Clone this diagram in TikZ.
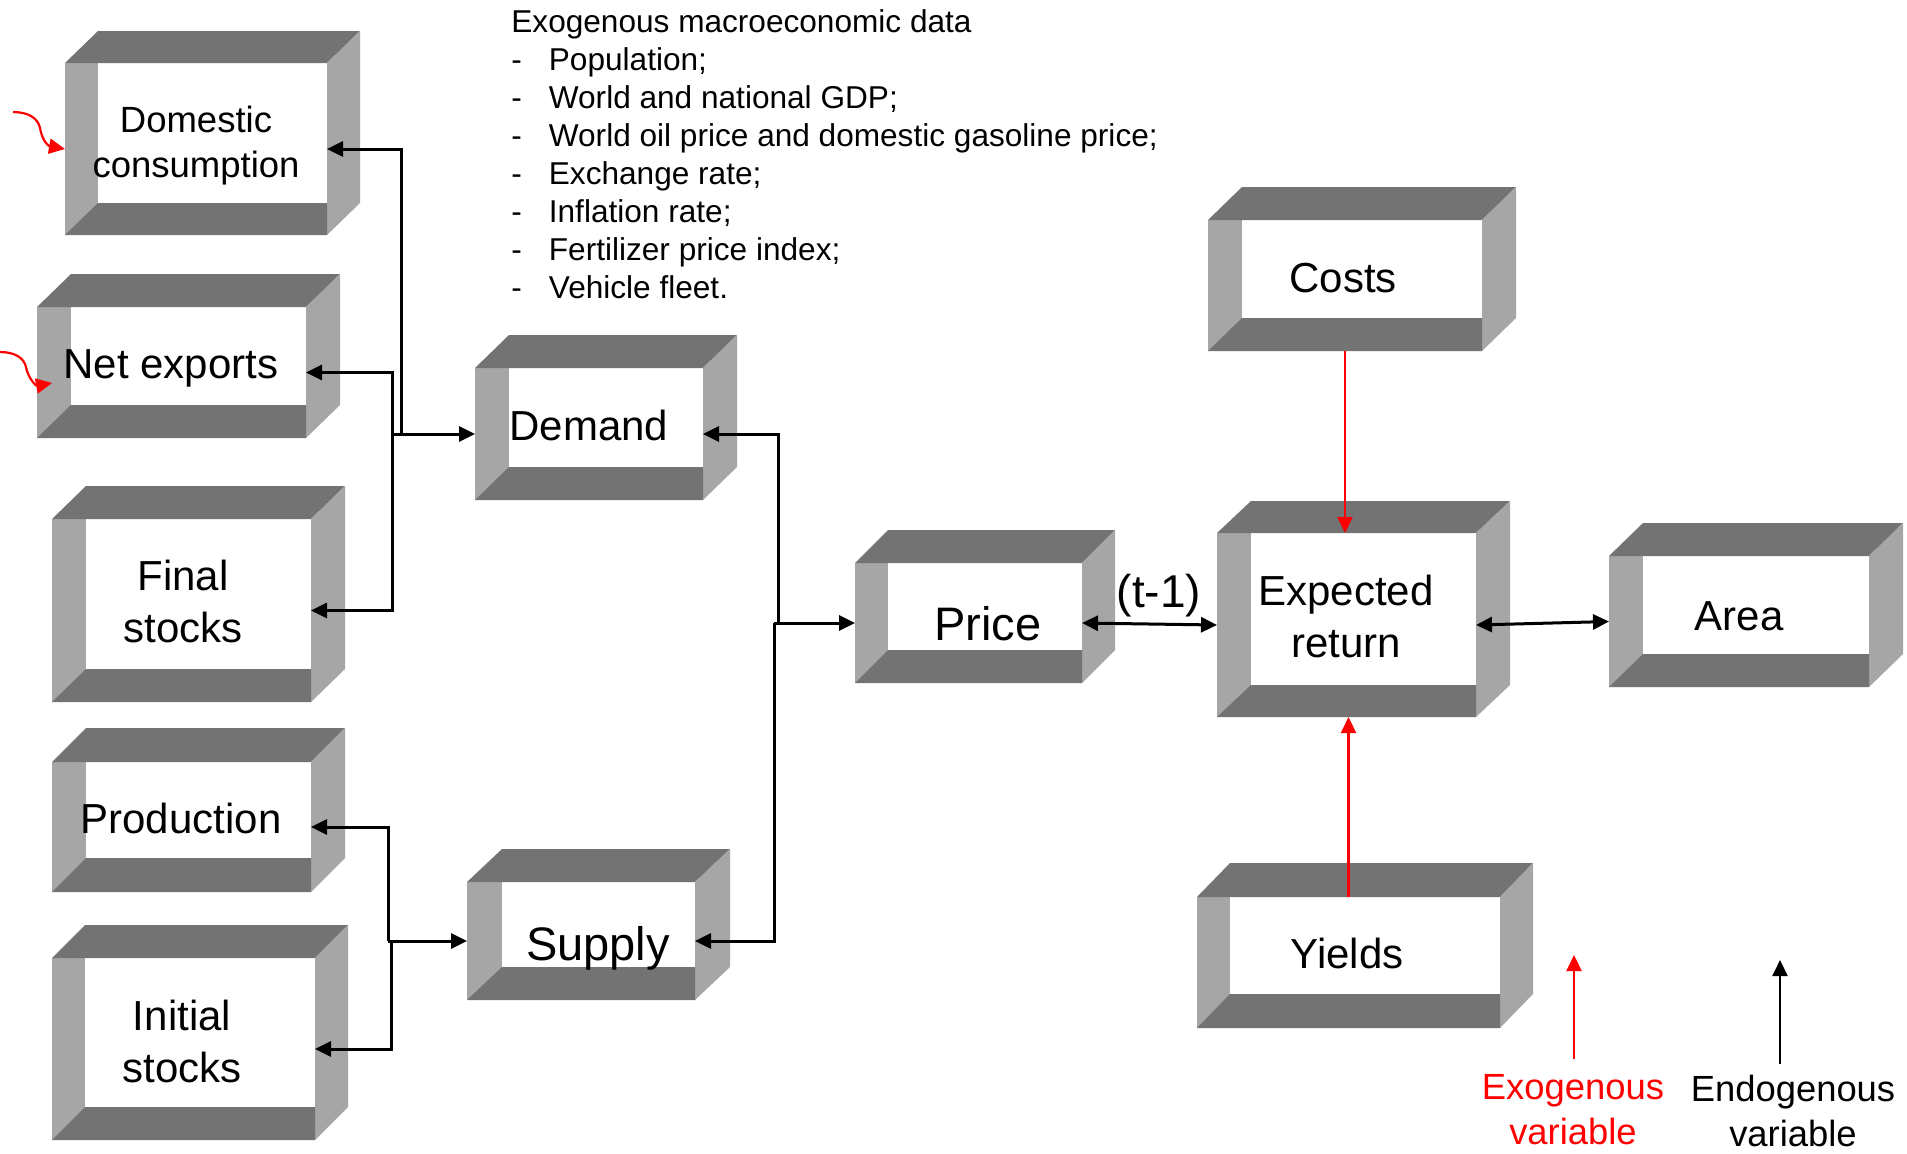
\documentclass[tikz,border=0pt]{standalone}
\usepackage{fontspec}
\setmainfont{Liberation Sans}
\usetikzlibrary{arrows.meta,fit}
\definecolor{bxdark}{RGB}{115,115,115}
\definecolor{bxlight}{RGB}{166,166,166}
\definecolor{exred}{RGB}{255,0,0}
\newcommand{\bevelbox}[7]{%
  \fill[bxlight] (#2,#3) rectangle (#2+#6,#5);
  \fill[bxdark] (#2,#3) -- (#2+#6,#3-#7) -- (#4+#6,#3-#7) -- (#4,#3) -- cycle;
  \fill[bxlight] (#4,#3) -- (#4+#6,#3-#7) -- (#4+#6,#5-#7) -- (#4,#5) -- cycle;
  \fill[bxdark] (#2,#5) -- (#2+#6,#5-#7) -- (#4,#5-#7) -- (#4,#5) -- cycle;
  \node[frontface, fit={(#2,#3)(#4,#5)}] (#1) {};
}
\tikzset{
  frontface/.style={inner sep=0pt, outer sep=0pt, draw=none},
  conn/.style={line width=1.5pt, -{Triangle[length=8pt,width=7.5pt]}},
  conntwo/.style={line width=1.5pt, {Triangle[length=8pt,width=7.5pt]}-{Triangle[length=8pt,width=7.5pt]}},
  exo/.style={line width=1.1pt, draw=exred, -{Triangle[length=8pt,width=7.5pt]}},
  endo/.style={line width=1.1pt, draw=black, -{Triangle[length=8pt,width=7.5pt]}},
  lbl/.style={inner sep=0pt, outer sep=0pt, font=\fontsize{21}{26}\selectfont, align=center},
  legend/.style={inner sep=0pt, outer sep=0pt, font=\fontsize{18.2}{22.5}\selectfont, align=center},
}
\begin{document}
\begin{tikzpicture}[x=0.5pt,y=-0.5pt]
\useasboundingbox (0,0) rectangle (1907,1153);

% boxes: name, x0, y0, x1, y1, dx, dy
\bevelbox{dom}{65}{63}{327}{235}{33}{32}
\bevelbox{net}{37}{307}{306}{438}{34}{33}
\bevelbox{fin}{52}{519}{311}{702}{34}{33}
\bevelbox{prod}{52}{762}{311}{892}{34}{34}
\bevelbox{ini}{52}{958}{315}{1140}{33}{33}
\bevelbox{dem}{475}{368}{703}{500}{34}{33}
\bevelbox{sup}{467}{882}{695}{1000}{35}{33}
\bevelbox{pri}{855}{563}{1082}{683}{33}{33}
\bevelbox{exp}{1217}{533}{1476}{717}{34}{32}
\bevelbox{cost}{1208}{220}{1482}{351}{34}{33}
\bevelbox{area}{1609}{556}{1869}{687}{34}{33}
\bevelbox{yld}{1197}{897}{1500}{1028}{33}{34}

% texts
\node[lbl, font=\fontsize{18.25}{22.5}\selectfont, anchor=north] (tdom) at (196,106) {Domestic\\consumption};
\node[lbl, anchor=base] (tnet) at (171,378) {Net exports};
\node[lbl, anchor=north] (tfin) at (183,560) {Final\\stocks};
\node[lbl, anchor=base] (tprod) at (181,833) {Production};
\node[lbl, anchor=north] (tini) at (182,1000) {Initial\\stocks};
\node[lbl, anchor=base] (tdem) at (589,440) {Demand};
\node[lbl, anchor=base, font=\fontsize{23.5}{28}\selectfont] (tsup) at (598,960) {Supply};
\node[lbl, anchor=base, font=\fontsize{23.5}{28}\selectfont] (tpri) at (988,640) {Price};
\node[lbl, anchor=base, font=\fontsize{23}{28}\selectfont] (tlag) at (1159,607) {(t-1)};
\node[lbl, anchor=north] (texp) at (1346,575) {Expected\\return};
\node[lbl, anchor=base] (tcost) at (1343,292) {Costs};
\node[lbl, anchor=base] (tarea) at (1739,630) {Area};
\node[lbl, anchor=base] (tyld) at (1347,968) {Yields};

\node[anchor=north west, inner sep=0pt, align=left, font=\fontsize{15.8}{19}\selectfont] (exodata) at (511,9)
{Exogenous macroeconomic data\\
\makebox[18.75pt][l]{-}Population;\\
\makebox[18.75pt][l]{-}World and national GDP;\\
\makebox[18.75pt][l]{-}World oil price and domestic gasoline price;\\
\makebox[18.75pt][l]{-}Exchange rate;\\
\makebox[18.75pt][l]{-}Inflation rate;\\
\makebox[18.75pt][l]{-}Fertilizer price index;\\
\makebox[18.75pt][l]{-}Vehicle fleet.};

% junction coordinates
\coordinate (jD) at (401,434);
\coordinate (jN) at (392,434);
\coordinate (jP) at (388,941);
\coordinate (jI) at (391,941);
\coordinate (jR1) at (778,623);
\coordinate (jR2) at (774,623);

% connectors left
\draw[conn] (jD) |- (dom.east);
\draw[conn] (jN) |- (net.east);
\draw[conn] (jN) |- (fin.east);
\draw[conn] (jN) -- (dem.west);
\draw[conn] (jP) |- (prod.east);
\draw[conn] (jI) |- (ini.east);
\draw[conn] (jP) -- (sup.west);
% connectors middle
\draw[conn] (jR1) |- (dem.east);
\draw[conn] (jR2) |- (sup.east);
\draw[conn] (jR2) -- (pri.west);
\draw[conntwo] (pri.east) -- (exp.west);
\draw[conntwo] (exp.east) -- (area.west);
% exogenous inputs
\draw[exo] (cost.south) -- (cost.south |- exp.north);
\draw[exo] (yld.north) -- (yld.north |- exp.south);

% red squiggles
\coordinate (sqA) at (13,112);
\draw[exo] (sqA) .. controls (28,112) and (38,118) .. (40,128) .. controls (42,140) and (48,146) .. (dom.west);
\coordinate (sqB) at (0,352);
\coordinate (sqBe) at (52,383);
\draw[exo] (sqB) .. controls (15,352) and (24,358) .. (26,367) .. controls (28,378) and (36,386) .. (sqBe);

% legend
\coordinate (lgRs) at (1574,1059);
\coordinate (lgRe) at (1574,955);
\coordinate (lgBs) at (1780,1064);
\coordinate (lgBe) at (1780,960);
\draw[exo] (lgRs) -- (lgRe);
\draw[endo] (lgBs) -- (lgBe);
\node[legend, text=exred, anchor=north] (texo) at (1573,1074) {Exogenous\\variable};
\node[legend, anchor=north] (tendo) at (1793,1075) {Endogenous\\variable};
\end{tikzpicture}
\end{document}
